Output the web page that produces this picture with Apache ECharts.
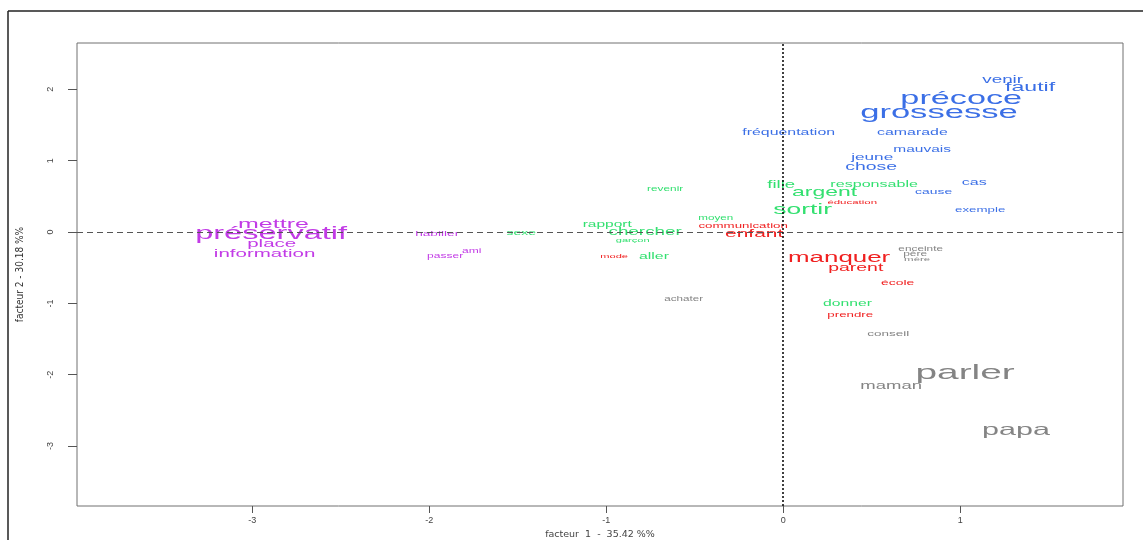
<!DOCTYPE html>
<html>
<head>
<meta charset="utf-8">
<script src="https://cdn.jsdelivr.net/npm/echarts@6/dist/echarts.min.js"></script>
<style>html,body{margin:0;padding:0;background:#fff}#c{width:1143px;height:540px}</style>
</head>
<body>
<div id="c"></div>
<script>
// ---- data ----
const words = ["mettre","préservatif","place","information","habiller","passer","ami",
  "sexe","rapport","chercher","garçon","aller","revenir","moyen","fille","argent","responsable","sortir","donner",
  "mode","communication","enfant","éducation","manquer","parent","école","prendre",
  "venir","fautif","précoce","grossesse","fréquentation","camarade","mauvais","jeune","chose","cas","cause","exemple",
  "achater","enceinte","père","mère","conseil","parler","maman","papa"];
const factor1 = [-2.88,-2.893,-2.89,-2.93,-1.955,-1.91,-1.76,
  -1.48,-0.994,-0.78,-0.85,-0.73,-0.667,-0.381,-0.011,0.234,0.514,0.11,0.364,
  -0.955,-0.226,-0.164,0.39,0.316,0.41,0.647,0.379,
  1.24,1.395,1.006,0.88,0.031,0.73,0.785,0.503,0.497,1.08,0.85,1.113,
  -0.562,0.777,0.746,0.757,0.593,1.028,0.61,1.315];
const factor2 = [0.11,-0.03,-0.17,-0.31,-0.03,-0.34,-0.27,
  -0.01,0.11,0.0,-0.11,-0.35,0.60,0.20,0.66,0.55,0.66,0.31,-1.01,
  -0.34,0.085,-0.02,0.42,-0.365,-0.50,-0.715,-1.16,
  2.13,2.02,1.865,1.67,1.39,1.39,1.15,1.04,0.91,0.69,0.56,0.31,
  -0.94,-0.24,-0.31,-0.38,-1.43,-1.98,-2.16,-2.78];
const cluster = [1,1,1,1,1,1,1,
  2,2,2,2,2,2,2,2,2,2,2,2,
  3,3,3,3,3,3,3,3,
  4,4,4,4,4,4,4,4,4,4,4,4,
  5,5,5,5,5,5,5,5];
const xTicks = [-3,-2,-1,0,1];
const yTicks = [-3,-2,-1,0,1,2];
const xTitle = "facteur  1  -  35.42 %%";
const yTitle = "facteur 2 - 30.18 %%";

// ---- styles (kept apart from the data) ----
const labelSize = [13.5,17.6,11.1,11.1,7.4,6.5,6.5,
  7.5,8.4,10.2,6,8.6,6.4,6.3,10,12.4,8.7,14.3,8.5,
  6,7.2,11.3,6.2,14,10.5,7.5,7.2,
  10.2,12.5,18.5,18.7,8.6,8.6,8.4,9.3,10.5,8.7,7.5,7.2,
  6.3,6.4,6.5,6.2,7.3,21,10,16.5];
const clusterColor = {1:"#c23be6",2:"#33e070",3:"#f02020",4:"#3b6fe6",5:"#848484"};
const STRETCH = 1.85;
const FONT = "'Liberation Sans', Arial, sans-serif";

const chart = echarts.init(document.getElementById('c'), null, {renderer:'canvas'});
chart.setOption({
  animation:false,
  backgroundColor:'#fff',
  grid:{left:77, top:43, right:20, bottom:34, show:true, borderColor:'#707070', borderWidth:1,
    containLabel:false, outerBoundsMode:'none'},
  xAxis:{type:'value', min:-3.99, max:1.92,
    axisLine:{show:false, onZero:false}, splitLine:{show:false},
    axisTick:{show:true, length:7, lineStyle:{color:'#555'}, customValues:xTicks},
    axisLabel:{fontSize:9, color:'#444', margin:10, fontFamily:FONT, customValues:xTicks},
    name:xTitle, nameLocation:'middle', nameGap:24,
    nameTextStyle:{fontSize:9.5, color:'#444', fontFamily:"'DejaVu Sans', sans-serif"}},
  yAxis:{type:'value', min:-3.84, max:2.65,
    axisLine:{show:false, onZero:false}, splitLine:{show:false},
    axisTick:{show:true, length:9, lineStyle:{color:'#555'}, customValues:yTicks},
    axisLabel:{fontSize:9, color:'#444', margin:22, rotate:90, fontFamily:FONT, customValues:yTicks},
    name:yTitle, nameLocation:'middle', nameGap:52,
    nameTextStyle:{fontSize:10, color:'#333', fontFamily:"'Liberation Sans Narrow', 'DejaVu Sans Condensed', sans-serif"}},
  graphic:[
    {type:'line', shape:{x1:8,y1:11,x2:1143,y2:11}, style:{stroke:'#222', lineWidth:1.5}, silent:true},
    {type:'line', shape:{x1:8,y1:11,x2:8,y2:540}, style:{stroke:'#222', lineWidth:1.5}, silent:true}
  ],
  series:[
    {type:'line', data:[], silent:true,
      markLine:{symbol:'none', silent:true, label:{show:false},
        data:[
          {yAxis:0, lineStyle:{color:'#555', type:[6,4], width:1}},
          {xAxis:0, lineStyle:{color:'#000', type:[2,2], width:1.5}}
        ]}},
    {type:'custom', clip:false, silent:true,
      data: factor1.map((x,i)=>[x, factor2[i]]),
      renderItem:function(params, api){
        const i = params.dataIndex;
        const p = api.coord([api.value(0), api.value(1)]);
        return {type:'text', x:p[0], y:p[1], scaleX:STRETCH, scaleY:1,
          style:{text:words[i], fill:clusterColor[cluster[i]],
            font: labelSize[i] + 'px ' + FONT, textAlign:'center', textVerticalAlign:'middle'}};
      }}
  ]
});
</script>
</body>
</html>
